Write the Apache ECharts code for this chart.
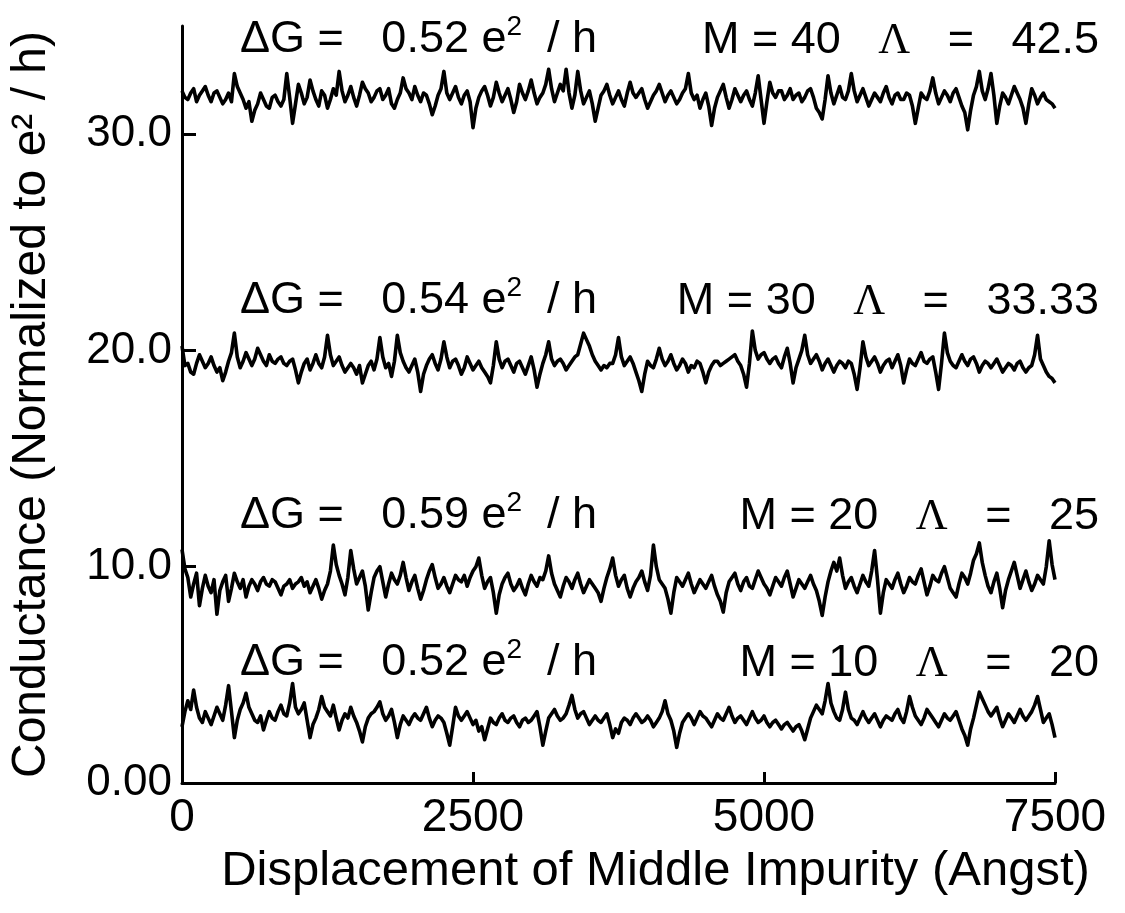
<!DOCTYPE html>
<html>
<head>
<meta charset="utf-8">
<script src="https://cdn.jsdelivr.net/npm/echarts@6/dist/echarts.min.js"></script>
<style>
html,body{margin:0;padding:0;background:#fff;}
#chart{width:1125px;height:913px;}
</style>
</head>
<body>
<div id="chart"></div>
<script>
// ---- data ----
const xStart = 0;
const xStep = 25; // Angstrom between samples
const xTicks = [0, 2500, 5000, 7500];
const xTickLabels = ['0', '2500', '5000', '7500'];
const yTickValues = [0, 10, 20, 30];
const yTickLabels = ['0.00', '10.0', '20.0', '30.0'];

const gM40 = [
32.0,31.7, 31.6,31.9, 32.1,31.5, 31.8,32.0, 32.2,31.8, 31.5,31.9, 32.0,31.7, 31.4,31.6, 31.9,31.5, 32.8,32.2,
31.9,31.6, 31.2,31.5, 30.6,31.1, 31.4,31.9, 31.6,31.3, 31.2,31.7, 31.8,31.5, 31.3,31.6, 32.8,31.7, 30.5,31.4,
32.3,31.9, 31.4,31.7, 32.5,32.0, 31.6,31.3, 32.0,31.8, 31.2,31.6, 32.1,31.8, 32.9,32.0, 31.5,31.8, 32.2,31.7,
31.3,31.8, 32.4,32.1, 31.9,31.5, 31.7,32.0, 32.1,31.6, 31.8,32.1, 31.4,31.2, 31.6,31.9, 32.6,32.1, 31.9,31.6,
32.2,31.8, 31.5,31.9, 31.8,31.4, 30.9,31.3, 31.8,32.1, 32.9,31.9, 31.6,31.9, 32.2,31.7, 31.4,31.8, 32.0,31.5,
30.3,31.2, 31.7,32.0, 32.2,31.8, 31.3,31.7, 32.4,31.9, 31.5,31.8, 32.1,31.6, 31.0,31.5, 32.3,31.9, 31.6,32.0,
32.5,31.9, 31.4,31.7, 31.9,32.3, 33.0,32.1, 31.5,31.9, 32.3,32.0, 33.0,31.9, 31.2,31.8, 32.9,32.0, 31.4,31.7,
32.0,31.4, 30.6,31.2, 31.8,32.0, 32.3,31.8, 31.4,31.7, 32.0,31.6, 31.3,31.9, 32.4,31.9, 31.7,31.9, 32.1,31.6,
31.2,31.5, 31.8,32.0, 32.3,31.9, 31.5,31.8, 32.0,31.7, 31.4,31.6, 31.9,32.1, 32.8,31.9, 31.6,31.8, 31.2,31.6,
31.9,31.3, 30.4,31.2, 31.7,32.0, 32.3,31.7, 31.2,31.6, 32.1,31.8, 31.5,31.8, 32.0,31.6, 31.3,31.9, 32.7,31.6,
30.5,31.5, 32.4,31.9, 31.7,32.0, 32.0,31.6, 31.8,32.1, 31.6,31.8, 31.9,31.5, 31.7,32.0, 32.1,31.7, 31.2,31.0,
30.7,31.6, 32.7,31.9, 31.4,31.8, 32.2,31.7, 31.6,32.0, 32.8,32.0, 31.5,31.8, 32.1,31.7, 31.3,31.6, 31.9,31.7,
31.5,31.9, 32.2,31.7, 31.4,31.8, 31.9,31.6, 31.6,31.9, 31.8,31.3, 30.5,31.2, 31.9,31.7, 31.6,32.0, 32.6,31.9,
31.4,31.7, 32.0,31.8, 31.5,31.9, 32.1,31.7, 31.3,31.0, 30.2,31.1, 31.8,32.2, 32.9,32.0, 31.6,32.1, 32.8,31.8,
30.5,31.3, 31.9,31.7, 31.4,31.8, 32.2,31.9, 31.6,31.2, 30.5,31.4, 32.1,31.8, 31.4,31.7, 31.9,31.6, 31.5,31.4,
31.2];

const gM30 = [
20.2,19.3, 19.4,19.0, 18.9,19.4, 19.8,19.5, 19.2,19.4, 19.7,19.3, 19.0,19.2, 18.6,19.0, 19.5,19.9, 20.8,19.7,
19.2,19.5, 19.9,19.6, 19.3,19.6, 20.1,19.8, 19.5,19.3, 19.8,19.5, 19.4,19.6, 19.7,19.4, 19.3,19.5, 19.6,19.1,
18.5,19.0, 19.4,19.6, 19.1,19.4, 19.8,19.4, 19.2,19.7, 20.7,19.8, 19.3,19.5, 19.7,19.3, 19.0,19.2, 19.4,19.2,
18.9,19.3, 18.5,18.9, 19.3,19.5, 19.1,19.6, 20.6,19.7, 19.2,19.4, 18.8,19.5, 20.7,19.9, 19.5,19.2, 19.0,19.3,
19.6,19.0, 18.1,18.9, 19.3,19.6, 19.8,19.4, 19.1,19.6, 20.4,19.7, 19.2,19.5, 19.6,19.3, 18.9,19.2, 19.7,19.4,
19.1,19.3, 19.5,19.2, 19.0,18.8, 18.5,19.3, 20.4,19.6, 19.2,19.5, 19.6,19.3, 19.0,19.4, 19.5,19.2, 18.9,19.3,
19.7,19.1, 18.3,18.9, 19.4,19.8, 20.4,19.6, 19.3,19.5, 19.6,19.4, 19.1,19.3, 19.5,19.7, 19.8,20.3, 20.8,20.5,
20.2,19.8, 19.5,19.3, 19.1,19.3, 19.2,19.4, 19.4,19.8, 20.6,19.7, 19.3,19.5, 19.7,19.4, 19.0,18.6, 18.1,18.9,
19.5,19.3, 19.2,19.6, 20.1,19.6, 19.3,19.5, 19.8,19.4, 19.1,19.3, 19.6,19.4, 19.0,19.3, 19.2,19.5, 19.4,19.0,
18.5,19.0, 19.3,19.5, 19.5,19.3, 19.4,19.5, 19.6,19.7, 19.8,19.5, 19.3,18.9, 18.3,19.4, 20.9,20.0, 19.6,19.8,
19.9,19.6, 19.4,19.6, 19.7,19.4, 19.2,19.7, 20.1,19.4, 18.5,19.2, 19.6,20.0, 20.7,19.8, 19.4,19.6, 19.8,19.5,
19.1,19.4, 19.6,19.3, 19.0,19.3, 19.5,19.4, 19.2,19.5, 19.4,18.9, 18.2,19.2, 20.4,19.7, 19.3,19.5, 19.7,19.4,
19.0,19.3, 19.5,19.6, 19.2,19.5, 19.8,19.3, 18.5,19.1, 19.6,19.4, 19.3,19.6, 19.9,19.5, 19.4,19.6, 19.7,19.0,
18.2,19.4, 20.8,19.9, 19.5,19.3, 19.2,19.5, 19.8,19.5, 19.3,19.6, 19.7,19.4, 19.0,19.3, 19.5,19.4, 19.2,19.4,
19.6,19.3, 19.0,19.2, 19.4,19.3, 19.1,19.4, 19.5,19.2, 19.0,19.2, 19.3,19.8, 20.7,19.6, 19.3,19.0, 18.8,18.7,
18.5];

const gM20 = [
10.8,9.9, 9.5,8.6, 9.2,9.7, 8.2,9.0, 9.6,9.1, 8.8,9.4, 7.8,8.9, 9.3,9.6, 8.4,9.0, 9.7,9.3,
9.0,9.4, 8.6,9.1, 9.4,9.2, 8.9,9.3, 9.5,9.2, 9.1,9.4, 9.3,9.0, 8.7,9.1, 9.2,9.4, 9.0,9.2,
9.3,9.5, 9.1,9.3, 8.8,9.1, 9.4,9.0, 8.5,8.9, 9.2,9.8, 11.0,10.1, 9.6,9.2, 8.7,9.5, 10.75,9.9,
9.2,9.5, 9.8,9.1, 8.0,8.8, 9.5,9.8, 10.0,9.3, 8.6,9.2, 9.7,9.4, 9.2,9.6, 10.2,9.5, 8.9,9.3,
9.6,9.0, 8.5,8.9, 9.4,9.8, 10.1,9.5, 9.0,9.2, 9.5,9.1, 8.8,9.2, 9.6,9.4, 9.3,9.6, 9.1,9.5,
9.8,10.0, 10.4,9.6, 9.0,9.3, 9.5,8.8, 7.85,8.7, 9.2,9.5, 9.7,9.2, 8.9,9.1, 9.4,9.0, 8.7,9.2,
9.6,9.3, 9.1,9.5, 9.4,9.8, 10.5,9.7, 9.2,8.9, 8.6,9.1, 9.5,9.3, 9.0,9.4, 9.7,9.2, 8.8,9.1,
9.4,9.2, 9.0,8.8, 8.4,9.0, 9.5,9.9, 10.4,9.6, 9.1,9.4, 9.6,9.0, 8.6,9.0, 9.3,9.5, 9.8,9.3,
8.9,9.6, 11.0,10.0, 9.4,9.2, 9.0,8.5, 7.85,8.8, 9.5,9.3, 9.1,9.4, 9.7,9.2, 8.8,9.1, 9.4,9.2,
9.0,9.3, 9.6,9.1, 8.7,8.4, 7.9,8.8, 9.3,9.5, 9.7,9.2, 8.9,9.3, 9.5,9.1, 9.0,9.4, 9.8,9.5,
9.2,9.0, 8.7,9.1, 9.5,9.3, 9.1,9.5, 9.8,9.2, 8.6,9.0, 9.4,9.2, 9.0,9.3, 9.6,9.2, 8.9,8.4,
7.75,8.6, 9.3,9.8, 10.2,9.8, 10.4,9.6, 9.0,9.3, 9.5,9.1, 8.8,9.2, 9.6,9.3, 9.1,9.8, 10.75,9.4,
7.85,8.8, 9.4,9.2, 9.0,9.4, 9.7,9.2, 8.8,9.1, 9.5,9.3, 9.2,9.6, 9.9,9.3, 8.7,9.1, 9.6,9.4,
9.3,9.7, 10.0,9.5, 9.0,8.8, 8.6,9.2, 9.7,9.5, 9.2,9.7, 10.3,10.6, 11.1,10.2, 9.6,9.1, 8.8,9.3,
9.7,9.0, 8.1,8.9, 9.4,9.8, 10.2,9.6, 9.0,9.4, 9.8,9.3, 8.9,9.2, 9.6,9.4, 9.2,10.0, 11.2,10.1,
9.4];

const gM10 = [
2.6,3.3, 3.8,3.4, 4.3,3.5, 3.0,2.8, 3.3,3.0, 2.7,3.1, 3.5,3.2, 2.9,3.6, 4.5,3.3, 2.1,2.9,
3.4,3.7, 4.15,3.5, 3.2,2.9, 2.8,3.1, 2.45,2.9, 3.3,3.0, 2.9,3.3, 3.6,3.2, 3.1,3.7, 4.6,3.5,
3.2,3.4, 3.7,2.9, 2.1,2.7, 3.0,3.4, 4.0,3.5, 3.3,3.1, 3.6,3.0, 2.45,2.9, 3.2,3.0, 3.5,3.1,
2.8,2.4, 1.9,2.6, 3.0,3.2, 3.3,3.5, 3.75,3.2, 2.9,3.1, 3.4,2.8, 2.1,2.7, 3.1,2.9, 2.7,3.0,
3.2,3.0, 2.9,3.2, 3.5,3.0, 2.6,2.9, 3.1,3.0, 2.8,2.3, 1.75,2.6, 3.5,3.1, 2.9,3.1, 3.3,3.0,
2.7,2.9, 2.4,2.6, 2.0,2.5, 3.0,2.8, 2.7,3.0, 3.2,2.9, 2.8,3.0, 3.1,2.8, 2.6,2.9, 3.0,2.8,
2.9,3.1, 3.3,2.6, 1.75,2.4, 3.0,3.2, 3.4,3.1, 2.9,3.0, 3.2,3.6, 4.05,3.4, 3.0,3.2, 3.3,3.0,
2.7,2.9, 3.1,2.9, 2.8,3.0, 3.2,2.7, 2.1,2.5, 2.3,2.8, 3.0,2.9, 2.7,3.0, 3.2,3.0, 2.8,2.9,
3.1,2.9, 2.6,2.8, 3.0,3.3, 3.8,3.2, 2.9,2.4, 1.65,2.3, 2.8,3.0, 3.2,3.0, 2.7,3.0, 3.3,3.1,
3.0,2.8, 2.6,2.9, 3.2,3.0, 2.9,3.2, 3.5,3.1, 2.8,3.0, 3.1,2.9, 2.7,3.0, 3.3,3.0, 2.8,2.9,
3.1,2.8, 2.6,2.8, 2.9,2.7, 2.5,2.7, 2.8,2.6, 2.4,2.6, 2.7,2.4, 2.0,2.5, 3.0,3.3, 3.6,3.4,
3.2,3.8, 4.6,3.7, 3.3,3.0, 2.9,3.4, 4.2,3.4, 3.0,2.9, 2.7,3.0, 3.3,3.0, 2.8,3.0, 3.2,2.9,
2.6,2.9, 3.1,3.0, 2.9,3.2, 3.4,3.0, 2.8,3.3, 4.0,3.5, 3.1,2.9, 2.7,3.0, 3.4,3.2, 3.0,2.8,
2.6,2.9, 3.2,3.0, 2.9,3.1, 3.3,2.9, 2.5,2.2, 1.75,2.5, 3.0,3.6, 4.2,3.9, 3.6,3.3, 3.1,3.3,
3.5,3.0, 2.6,2.9, 3.2,3.0, 2.8,3.1, 3.4,3.1, 2.9,3.1, 3.3,3.6, 4.0,3.4, 2.8,3.0, 3.2,2.7,
2.1];

const annDG = ['0.52', '0.54', '0.59', '0.52'];
const annM = ['40', '30', '20', '10'];
const annLambda = ['42.5', '33.33', '25', '20'];

const xTitle = 'Displacement of Middle Impurity (Angst)';
const yTitle = 'Conductance (Normalized to e\u00B2 / h)';

// ---- build ----
function pairs(arr){ return arr.map((v,i)=>[xStart + i*xStep, v]); }
const seriesList = [gM40, gM30, gM20, gM10];

const FONT = '"Liberation Sans", Arial, Helvetica, sans-serif';
const SERIF = '"Liberation Serif", "Times New Roman", serif';
const chart = echarts.init(document.getElementById('chart'), null, {renderer:'canvas'});

const rowY = [40, 301, 516, 663];
const graphics = [];
rowY.forEach((y, k) => {
  graphics.push({
    type: 'text', x: 240, y: y,
    style: {
      text: '{m|\u0394G =   ' + annDG[k] + ' e}{s|2}{m|  / h}',
      fill: '#000', align: 'left', verticalAlign: 'middle',
      rich: {
        m: {fontSize: 45, fontFamily: FONT, fill: '#000', lineHeight: 50},
        s: {fontSize: 28, fontFamily: FONT, fill: '#000', lineHeight: 50, padding: [0,0,26,0]}
      }
    }
  });
  graphics.push({
    type: 'text', x: 1099, y: y + 1,
    style: {
      text: '{m|M = ' + annM[k] + '   }{l|\u039B}{m|   =   ' + annLambda[k] + '}',
      fill: '#000', align: 'right', verticalAlign: 'middle',
      rich: {
        m: {fontSize: 45, fontFamily: FONT, fill: '#000', lineHeight: 50},
        l: {fontSize: 44, fontFamily: SERIF, fill: '#000', lineHeight: 50}
      }
    }
  });
});

chart.setOption({
  animation: false,
  backgroundColor: '#fff',
  grid: {left: 181, right: 70, top: 26, bottom: 130, containLabel: false},
  xAxis: {
    type: 'value', min: xTicks[0], max: xTicks[xTicks.length-1], interval: xTicks[1]-xTicks[0],
    name: xTitle, nameLocation: 'middle', nameGap: 64,
    nameTextStyle: {fontSize: 49, fontFamily: FONT, color: '#000', padding: [0,0,0,74]},
    axisLine: {lineStyle: {color: '#000', width: 3}},
    axisTick: {inside: true, length: 11, lineStyle: {color: '#000', width: 3}},
    axisLabel: {fontSize: 46, fontFamily: FONT, color: '#000', margin: 12,
      formatter: v => { const i = xTicks.indexOf(v); return i >= 0 ? xTickLabels[i] : ''; }},
    splitLine: {show: false}
  },
  yAxis: {
    type: 'value', min: 0, max: 35,
    name: yTitle, nameLocation: 'middle', nameGap: 126,
    nameTextStyle: {fontSize: 48, fontFamily: FONT, color: '#000'},
    axisLine: {lineStyle: {color: '#000', width: 3}},
    axisTick: {inside: true, length: 14, lineStyle: {color: '#000', width: 3}, customValues: yTickValues},
    axisLabel: {fontSize: 44, fontFamily: FONT, color: '#000', margin: 10, customValues: yTickValues,
      formatter: v => { const i = yTickValues.indexOf(v); return i >= 0 ? yTickLabels[i] : ''; }},
    splitLine: {show: false}
  },
  graphic: graphics,
  series: seriesList.map(arr => ({
    type: 'line', data: pairs(arr), showSymbol: false, symbol: 'none',
    lineStyle: {color: '#000', width: 3.6, join: 'round'}, itemStyle: {color: '#000'},
    emphasis: {disabled: true}
  }))
});
</script>
</body>
</html>
